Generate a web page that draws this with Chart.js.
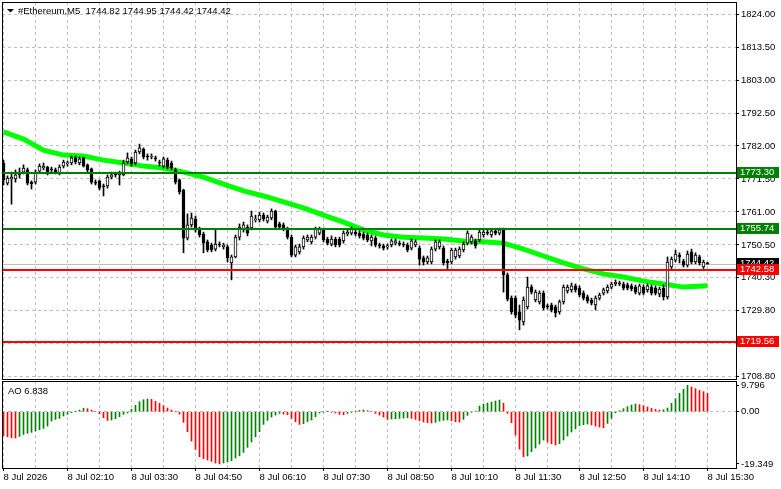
<!DOCTYPE html>
<html>
<head>
<meta charset="utf-8">
<title>#Ethereum,M5</title>
<script src="https://cdn.jsdelivr.net/npm/chart.js@4.4.1/dist/chart.umd.min.js"></script>
<style>
  html, body { margin: 0; padding: 0; background: #fff; }
  #wrap { position: relative; width: 781px; height: 489px; overflow: hidden; }
  .pane { position: absolute; left: 0; width: 781px; }
  #mainPane { top: 0; height: 380px; }
  #aoPane { top: 380px; height: 109px; }
</style>
</head>
<body>
<div id="wrap">
  <div class="pane" id="mainPane"><canvas id="priceChart"></canvas></div>
  <div class="pane" id="aoPane"><canvas id="aoChart"></canvas></div>
</div>
<script>
// M5 bars, 8 Jul 00:50 .. 15:30 (index 0..176)
const opens = [
  1776.6,1770.2,1771.5,1771.5,1772.8,1773.7,1774.4,1770.5,1770.5,1774.0,
  1775.0,1775.3,1774.7,1774.4,1773.4,1775.6,1776.3,1776.6,1778.2,1776.6,
  1778.2,1776.0,1774.7,1770.5,1770.9,1769.3,1769.3,1772.1,1773.1,1772.8,
  1772.8,1776.9,1777.9,1776.6,1780.1,1781.0,1778.8,1778.5,1778.2,1776.9,
  1775.6,1777.5,1776.6,1774.4,1771.2,1768.0,1752.7,1756.9,1758.8,1755.6,
  1754.0,1751.5,1750.5,1749.2,1750.8,1749.9,1749.9,1744.8,1746.7,1753.0,
  1755.3,1756.2,1755.9,1758.5,1758.5,1760.0,1758.1,1759.1,1761.3,1757.2,
  1756.9,1755.6,1753.0,1747.3,1748.3,1749.9,1752.1,1751.5,1753.0,1754.3,
  1755.6,1752.4,1750.8,1752.4,1752.4,1751.8,1754.0,1754.3,1754.6,1754.3,
  1754.0,1753.7,1751.8,1752.7,1750.5,1750.2,1749.9,1750.5,1751.1,1751.1,
  1750.8,1750.5,1749.5,1750.5,1749.5,1746.4,1745.1,1745.1,1749.2,1749.9,
  1749.5,1745.4,1745.1,1746.7,1747.0,1748.9,1751.1,1751.5,1751.8,1752.1,
  1753.7,1754.6,1753.7,1755.0,1754.3,1755.3,1741.0,1733.6,1733.6,1729.2,
  1726.0,1730.8,1737.1,1733.0,1732.4,1735.2,1731.1,1731.4,1730.8,1729.2,
  1732.4,1735.9,1736.2,1737.5,1736.8,1735.2,1734.0,1733.0,1731.4,1733.6,
  1735.2,1735.9,1737.1,1738.1,1738.4,1738.1,1737.8,1737.5,1737.1,1735.2,
  1737.1,1736.2,1737.1,1736.8,1734.9,1736.8,1734.0,1743.5,1745.7,1747.3,
  1745.4,1744.1,1748.3,1745.1,1746.7,1743.5,1744.82
];
const highs = [
  1777.5,1772.5,1773.7,1774.4,1775.0,1776.0,1775.0,1770.9,1774.4,1776.3,
  1776.6,1775.6,1775.3,1775.0,1776.0,1777.5,1777.2,1778.8,1778.8,1778.5,
  1778.5,1776.3,1775.0,1771.2,1771.2,1769.9,1772.8,1773.7,1773.7,1774.0,
  1777.5,1779.8,1778.5,1780.7,1782.6,1781.4,1779.5,1779.5,1778.8,1777.5,
  1778.5,1778.2,1777.2,1775.0,1771.5,1768.3,1760.4,1760.7,1759.7,1756.2,
  1754.6,1752.1,1751.1,1755.3,1751.5,1751.1,1750.5,1747.3,1753.7,1757.2,
  1757.8,1756.9,1761.3,1760.0,1761.0,1760.7,1760.0,1762.0,1761.6,1757.8,
  1757.5,1756.2,1753.7,1750.5,1750.8,1753.4,1753.7,1753.7,1756.2,1756.2,
  1755.9,1753.0,1753.4,1753.0,1753.0,1755.0,1755.3,1756.2,1755.3,1755.0,
  1754.6,1754.3,1753.7,1753.4,1751.1,1750.8,1750.8,1752.4,1752.4,1751.8,
  1751.5,1751.1,1752.4,1752.1,1750.2,1747.0,1747.0,1749.9,1752.1,1752.1,
  1750.2,1746.0,1749.5,1749.5,1749.9,1751.5,1755.0,1753.7,1752.4,1755.3,
  1755.3,1755.3,1755.6,1755.6,1755.9,1755.9,1741.6,1734.3,1734.3,1731.4,
  1734.0,1740.3,1737.8,1736.2,1735.9,1735.9,1731.7,1732.0,1731.4,1733.0,
  1737.8,1737.8,1738.4,1738.1,1737.5,1735.9,1734.6,1733.6,1734.3,1735.2,
  1736.8,1737.8,1738.7,1739.4,1739.0,1738.7,1738.4,1738.1,1737.8,1738.1,
  1737.8,1738.1,1737.8,1737.5,1737.1,1737.8,1746.7,1746.7,1748.9,1748.0,
  1746.0,1748.6,1749.2,1748.0,1747.3,1745.7,1744.95
];
const lows = [
  1769.6,1769.6,1763.5,1770.5,1771.8,1773.1,1769.6,1768.3,1769.9,1773.7,
  1774.4,1772.8,1773.7,1773.1,1772.8,1775.0,1775.6,1776.0,1776.3,1776.0,
  1775.3,1773.7,1769.9,1769.6,1768.0,1766.1,1768.6,1771.5,1772.1,1769.6,
  1772.5,1776.3,1775.6,1776.0,1779.5,1777.9,1777.5,1777.9,1777.2,1775.6,
  1775.0,1774.7,1774.4,1769.9,1766.7,1748.0,1752.1,1756.2,1754.6,1753.0,
  1748.0,1748.3,1748.3,1748.6,1749.9,1749.2,1745.1,1739.4,1746.4,1752.1,
  1754.6,1753.4,1755.3,1757.8,1757.8,1758.1,1757.5,1758.5,1755.6,1755.6,
  1755.0,1752.4,1746.7,1746.7,1747.6,1749.2,1751.5,1750.8,1752.4,1753.7,
  1751.5,1750.5,1750.2,1749.9,1749.9,1751.1,1753.4,1753.7,1753.4,1752.7,
  1752.1,1751.5,1750.2,1749.9,1749.5,1748.9,1749.2,1749.9,1750.5,1750.2,
  1749.9,1748.3,1748.9,1749.9,1744.1,1744.1,1744.5,1744.5,1748.6,1749.2,
  1744.1,1742.5,1744.5,1746.0,1746.4,1748.3,1750.5,1750.8,1749.5,1751.5,
  1753.0,1753.7,1753.0,1753.7,1753.7,1735.5,1732.7,1728.5,1727.3,1723.5,
  1725.0,1730.1,1734.9,1732.4,1731.7,1729.8,1730.1,1729.2,1727.6,1728.5,
  1731.7,1735.2,1735.5,1735.5,1734.0,1733.0,1732.0,1731.4,1729.8,1733.0,
  1734.6,1735.2,1736.5,1737.5,1737.5,1736.2,1736.2,1735.9,1734.9,1734.6,
  1734.6,1735.5,1734.6,1734.6,1734.0,1733.0,1733.3,1742.9,1745.1,1744.8,
  1743.5,1743.5,1744.5,1744.5,1744.1,1742.9,1744.42
];
const closes = [
  1771.2,1771.8,1772.1,1772.8,1773.7,1775.0,1770.2,1769.9,1773.7,1775.6,
  1775.6,1773.1,1774.4,1773.4,1775.3,1776.9,1776.6,1778.2,1776.9,1777.9,
  1775.6,1774.4,1770.5,1770.2,1768.6,1769.0,1772.1,1772.8,1772.8,1773.4,
  1776.6,1778.2,1776.3,1780.1,1781.4,1778.5,1778.5,1778.8,1777.9,1776.6,
  1777.9,1775.3,1775.0,1770.5,1767.4,1752.7,1756.9,1759.1,1755.3,1753.7,
  1751.1,1748.9,1748.9,1750.8,1750.5,1750.5,1746.4,1746.7,1753.0,1756.2,
  1756.9,1754.3,1759.7,1758.8,1760.0,1758.8,1759.4,1761.3,1756.2,1756.2,
  1755.6,1753.0,1747.3,1749.9,1749.9,1752.7,1753.0,1753.0,1755.6,1755.6,
  1752.1,1751.1,1752.4,1750.5,1750.5,1754.3,1754.6,1755.6,1754.0,1753.4,
  1752.7,1752.1,1753.0,1750.5,1750.2,1749.5,1750.2,1751.8,1751.8,1750.8,
  1750.5,1748.9,1751.8,1751.5,1746.0,1745.1,1746.4,1749.2,1751.5,1751.5,
  1744.8,1744.8,1748.9,1748.9,1749.2,1750.8,1754.3,1753.0,1750.2,1754.6,
  1754.6,1754.3,1755.0,1754.3,1755.3,1741.0,1733.3,1729.2,1728.2,1726.6,
  1733.0,1737.1,1735.5,1735.5,1735.2,1730.5,1730.8,1729.8,1728.9,1732.4,
  1737.1,1737.1,1737.5,1736.2,1734.6,1733.6,1732.7,1732.0,1733.6,1734.6,
  1736.2,1737.1,1738.1,1738.7,1738.1,1736.8,1736.8,1736.5,1735.5,1737.5,
  1735.2,1737.5,1735.2,1735.2,1736.5,1734.0,1745.1,1746.0,1747.6,1746.7,
  1744.1,1747.6,1745.1,1747.3,1744.8,1745.1,1744.42
];

// moving average, read at every 5th bar
const maBars = [0,5,10,15,20,25,30,35,40,45,50,55,60,65,70,75,80,85,90,95,
  100,105,110,115,120,125,130,135,140,145,150,155,160,165,170,176];
const maValues = [
  1786.5,1784.2,1780.7,1779.1,1778.8,1777.5,1776.6,1775.6,1775.0,1773.7,
  1772.1,1769.9,1767.7,1766.1,1764.2,1762.3,1760.0,1757.8,1755.3,1753.7,
  1753.0,1752.7,1752.4,1751.8,1751.5,1751.1,1749.2,1747.0,1744.8,1742.9,
  1741.3,1740.3,1739.0,1738.1,1737.1,1737.5
];

// Awesome Oscillator
const aoValues = [
  -8.89,-9.26,-9.63,-9.75,-9.14,-8.40,-8.02,-7.65,-7.16,-6.67,
  -6.17,-5.31,-3.46,-2.84,-2.47,-1.60,-0.99,-0.37,0.12,0.62,
  1.23,1.11,0.62,0.00,-0.74,-2.22,-3.21,-3.09,-2.59,-1.85,
  -0.99,-0.49,0.86,2.35,3.70,4.44,4.69,4.57,3.83,3.09,
  2.22,1.36,0.62,0.12,-0.86,-3.95,-7.41,-10.86,-13.95,-16.67,
  -17.41,-17.90,-18.40,-19.01,-19.349,-19.01,-18.64,-18.15,-17.16,-16.30,
  -15.06,-13.21,-11.23,-9.26,-7.41,-4.69,-3.21,-1.98,-1.23,-0.62,
  -0.86,-1.11,-2.47,-3.70,-4.69,-4.44,-3.70,-3.09,-1.85,-0.49,
  -0.12,0.12,-0.12,-0.49,-0.99,-1.11,-0.62,-0.25,0.25,0.49,
  0.62,0.37,0.00,-0.62,-1.23,-1.98,-2.84,-2.72,-2.59,-2.47,
  -2.35,-2.22,-2.47,-2.84,-3.33,-3.83,-4.07,-4.20,-3.95,-3.46,
  -3.21,-3.09,-3.33,-3.70,-3.83,-2.84,-1.36,-0.12,0.25,2.10,
  2.84,3.21,3.58,3.95,4.32,3.09,-0.62,-4.07,-8.64,-13.83,
  -16.67,-16.42,-14.81,-13.46,-11.98,-10.49,-11.23,-11.85,-12.35,-11.85,
  -10.49,-9.01,-7.53,-6.30,-5.19,-4.81,-4.57,-4.94,-5.31,-5.68,
  -5.93,-4.32,-2.47,-0.37,0.37,1.11,1.85,2.47,2.84,2.59,
  2.22,1.73,1.23,0.86,0.62,0.74,1.36,3.09,4.81,6.79,
  8.27,9.796,9.14,8.52,7.90,7.41,6.838
];

// horizontal levels
const resistanceLevels = [1773.30, 1755.74];
const supportLevels = [1742.58, 1719.56];

// axis ticks
const priceTicks = [1824.00,1813.50,1803.00,1792.50,1782.00,1771.50,1761.00,1750.50,1740.30,1729.80,1719.30,1708.80];
const aoTicks = [9.796, 0, -19.349];
const timeLabels = ['8 Jul 2026','8 Jul 02:10','8 Jul 03:30','8 Jul 04:50','8 Jul 06:10','8 Jul 07:30',
  '8 Jul 08:50','8 Jul 10:10','8 Jul 11:30','8 Jul 12:50','8 Jul 14:10','8 Jul 15:30'];
const symbolName = '#Ethereum,M5';

// look
const FONT = '"Liberation Sans", Arial, sans-serif';
const FONT_SIZE = 9.5;
const GRID = '#c0c0c0';
const LEVEL_GREEN = '#008000';
const LEVEL_RED = '#ff0000';
const MA_COLOR = '#00ff00';
const AO_UP = '#008000';
const AO_DOWN = '#ff0000';
const X_MIN = -0.375, X_MAX = 183.125;
const PRICE_MIN = 1707.86, PRICE_MAX = 1827.82;
const AO_MIN = -20.85, AO_MAX = 11.37;

Chart.defaults.font.family = FONT;
Chart.defaults.font.size = FONT_SIZE;
Chart.defaults.color = '#000';

const n = closes.length;
const last = n - 1;
const gridBars = [];
for (let b = 0; b < n; b += 8) gridBars.push(b);

const wicks = lows.map((l, i) => ({ x: i, y: [l, highs[i]] }));
const bodies = opens.map((o, i) => ({ x: i, y: [o, closes[i]] }));
const bodyColors = opens.map((o, i) => closes[i] >= o ? '#ffffff' : '#000000');
const maPoints = maBars.map((b, k) => ({ x: b, y: maValues[k] }));
const aoPoints = aoValues.map((v, i) => ({ x: i, y: v }));
const aoColors = aoValues.map((v, i) => (i > 0 && v > aoValues[i - 1]) ? AO_UP : AO_DOWN);

function hline(ctx, area, py, color, width) {
  ctx.save();
  ctx.strokeStyle = color;
  ctx.lineWidth = width;
  ctx.beginPath();
  ctx.moveTo(area.left, py);
  ctx.lineTo(area.right + 1, py);
  ctx.stroke();
  ctx.restore();
}

function priceBox(ctx, area, py, text, bg) {
  const cy = Math.round(py) - 1;
  ctx.save();
  ctx.fillStyle = bg;
  ctx.fillRect(area.right + 1, cy - 5, 42, 11);
  ctx.fillStyle = '#fff';
  ctx.font = FONT_SIZE + 'px ' + FONT;
  ctx.textBaseline = 'middle';
  ctx.textAlign = 'left';
  ctx.fillText(text, area.right + 4, cy + 0.5);
  ctx.restore();
}

function frame(ctx, a) {
  ctx.save();
  ctx.strokeStyle = '#000';
  ctx.lineWidth = 1;
  ctx.strokeRect(a.left + 0.5, a.top + 0.5, a.right - a.left, a.bottom - a.top);
  ctx.restore();
}

const priceOverlay = {
  id: 'priceOverlay',
  beforeDatasetsDraw(chart) {
    const { ctx, chartArea: a, scales: { y } } = chart;
    hline(ctx, a, Math.round(y.getPixelForValue(closes[last])) + 0.5, GRID, 1);
  },
  afterDatasetsDraw(chart) {
    const { ctx, chartArea: a, scales: { y } } = chart;
    resistanceLevels.forEach(v => hline(ctx, a, Math.round(y.getPixelForValue(v)), LEVEL_GREEN, 2));
    supportLevels.forEach(v => hline(ctx, a, Math.round(y.getPixelForValue(v)), LEVEL_RED, 2));
  },
  afterDraw(chart) {
    const { ctx, chartArea: a, scales: { y } } = chart;
    frame(ctx, a);
    priceBox(ctx, a, y.getPixelForValue(closes[last]), closes[last].toFixed(2), '#000');
    resistanceLevels.forEach(v => priceBox(ctx, a, y.getPixelForValue(v), v.toFixed(2), LEVEL_GREEN));
    supportLevels.forEach(v => priceBox(ctx, a, y.getPixelForValue(v), v.toFixed(2), LEVEL_RED));
    // symbol header
    ctx.save();
    ctx.fillStyle = '#000';
    ctx.beginPath();
    ctx.moveTo(7, 9); ctx.lineTo(14, 9); ctx.lineTo(10.5, 12.5); ctx.closePath();
    ctx.fill();
    ctx.font = FONT_SIZE + 'px ' + FONT;
    ctx.textBaseline = 'middle';
    const quote = [opens[last], highs[last], lows[last], closes[last]].map(v => v.toFixed(2)).join(' ');
    ctx.fillText(symbolName + '  ' + quote, 18, 11);
    ctx.restore();
  }
};

const aoOverlay = {
  id: 'aoOverlay',
  afterDraw(chart) {
    const { ctx, chartArea: a } = chart;
    frame(ctx, a);
    ctx.save();
    ctx.fillStyle = '#000';
    ctx.font = FONT_SIZE + 'px ' + FONT;
    ctx.textBaseline = 'middle';
    ctx.fillText('AO ' + aoValues[last].toFixed(3), 8, 11);
    ctx.restore();
  }
};

const xBase = {
  type: 'linear', min: X_MIN, max: X_MAX, offset: false,
  afterBuildTicks: s => { s.ticks = gridBars.map(v => ({ value: v })); },
  border: { display: false, dash: [3, 3] }
};

new Chart(document.getElementById('priceChart'), {
  type: 'bar',
  data: {
    datasets: [
      { type: 'line', data: maPoints, borderColor: MA_COLOR, borderWidth: 5,
        pointRadius: 0, tension: 0, order: 3 },
      { data: wicks, backgroundColor: '#000', barThickness: 1, grouped: false, order: 2 },
      { data: bodies, backgroundColor: bodyColors, borderColor: '#000', borderWidth: 1,
        borderSkipped: false, barThickness: 3, minBarLength: 1, grouped: false, order: 1 }
    ]
  },
  options: {
    responsive: true, maintainAspectRatio: false, animation: false,
    devicePixelRatio: 1, events: [],
    layout: { padding: { left: 2, top: 2, right: 0, bottom: 1 } },
    plugins: { legend: { display: false }, tooltip: { enabled: false } },
    scales: {
      x: Object.assign({}, xBase, {
        ticks: { display: false },
        grid: { color: GRID, drawTicks: false, offset: false },
        afterFit: s => { s.height = 0; s.paddingLeft = 0; s.paddingRight = 0; }
      }),
      y: {
        position: 'right', min: PRICE_MIN, max: PRICE_MAX,
        afterBuildTicks: s => { s.ticks = priceTicks.map(v => ({ value: v })); },
        afterFit: s => { s.width = 45; s.paddingTop = 0; s.paddingBottom = 0; },
        ticks: { callback: v => v.toFixed(2), padding: 2, autoSkip: false, color: '#000' },
        grid: { color: GRID, tickColor: '#000', tickLength: 3, tickBorderDash: [] },
        border: { display: false, dash: [3, 3] }
      }
    }
  },
  plugins: [priceOverlay]
});

new Chart(document.getElementById('aoChart'), {
  type: 'bar',
  data: {
    datasets: [
      { data: aoPoints, backgroundColor: aoColors, barThickness: 1, grouped: false }
    ]
  },
  options: {
    responsive: true, maintainAspectRatio: false, animation: false,
    devicePixelRatio: 1, events: [],
    layout: { padding: { left: 2, top: 1, right: 0, bottom: 0 } },
    plugins: { legend: { display: false }, tooltip: { enabled: false } },
    scales: {
      x: Object.assign({}, xBase, {
        ticks: {
          callback: v => (v % 16 === 0 ? timeLabels[v / 16] : ''),
          align: 'start', maxRotation: 0, minRotation: 0, autoSkip: false, padding: 1, color: '#000'
        },
        grid: {
          color: GRID, offset: false, tickLength: 3, tickBorderDash: [],
          tickColor: c => (c.tick && c.tick.value % 16 === 0 ? '#000' : 'rgba(0,0,0,0)')
        },
        afterFit: s => { s.height = 21; s.paddingLeft = 0; s.paddingRight = 0; }
      }),
      y: {
        position: 'right', min: AO_MIN, max: AO_MAX,
        afterBuildTicks: s => { s.ticks = aoTicks.map(v => ({ value: v })); },
        afterFit: s => { s.width = 45; s.paddingTop = 0; s.paddingBottom = 0; },
        ticks: { callback: v => (v === 0 ? '0.00' : String(v)), padding: 2, autoSkip: false, color: '#000' },
        grid: {
          color: c => (c.tick && c.tick.value === 0 ? GRID : 'rgba(0,0,0,0)'),
          tickColor: '#000', tickLength: 3, tickBorderDash: []
        },
        border: { display: false, dash: [3, 3] }
      }
    }
  },
  plugins: [aoOverlay]
});
</script>
</body>
</html>
